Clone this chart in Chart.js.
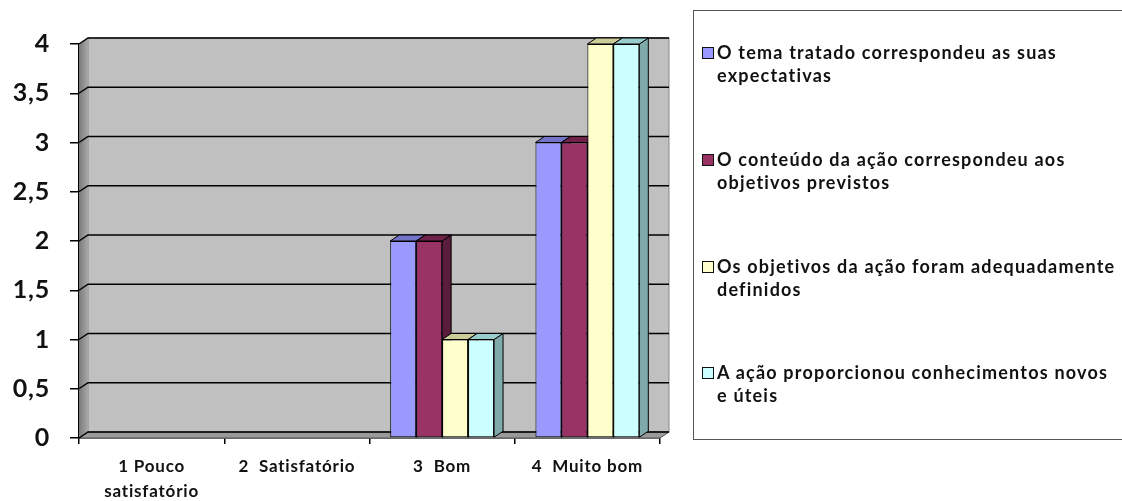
<!DOCTYPE html>
<html><head><meta charset="utf-8">
<script src="https://cdn.jsdelivr.net/npm/chart.js@4.4.0/dist/chart.umd.min.js"></script>
<style>
html,body{margin:0;padding:0;background:#fff;width:1122px;height:501px;overflow:hidden;}
#wrap{position:relative;width:1122px;height:501px;}
#c{position:absolute;left:0;top:0;}
#legend{position:absolute;left:693px;top:10px;width:440px;height:430px;border:1px solid #555;box-sizing:border-box;
  font-family:Lato,"Open Sans",sans-serif;font-weight:bold;font-size:18px;color:#111;}
.item{position:absolute;left:8px;display:flex;align-items:flex-start;line-height:23px;letter-spacing:1.2px;}
.mk{width:10px;height:10px;border:1.5px solid #111;margin-top:6px;margin-right:3px;flex:none;}
</style></head>
<body><div id="wrap"><canvas id="c" width="1122" height="501"></canvas><div id="legend"></div></div>
<script>
const categories = [["1 Pouco","satisfatório"], "2  Satisfatório", "3  Bom", "4  Muito bom"];
const seriesNames = [
  "O tema tratado correspondeu as suas expectativas",
  "O conteúdo da ação correspondeu aos objetivos previstos",
  "Os objetivos da ação foram adequadamente definidos",
  "A ação proporcionou conhecimentos novos e úteis"
];
const temaTratado   = [0, 0, 2, 3];
const conteudoAcao  = [0, 0, 2, 3];
const objetivosAcao = [0, 0, 1, 4];
const conhecimentos = [0, 0, 1, 4];
const yTicks = [0, 0.5, 1, 1.5, 2, 2.5, 3, 3.5, 4];

const colors = ["#9999FF", "#993366", "#FFFFCC", "#CCFFFF"];
const topCols = ["#7373C8", "#6E2249", "#CCCC99", "#99CCCC"];
const sideCols = ["#5C5CA6", "#5A1C3C", "#A6A67A", "#80AAAA"];
const values = [temaTratado, conteudoAcao, objetivosAcao, conhecimentos];

const DX = 9, DY = -6;
const spacing = {
  id: 'spacing',
  beforeInit(chart) { chart.ctx.letterSpacing = '0.8px'; },
  beforeDraw(chart) { chart.ctx.letterSpacing = '0.8px'; }
};
const threeD = {
  id: 'threeD',
  beforeDatasetsDraw(chart) {
    const {ctx, chartArea: a, scales: {y}} = chart;
    ctx.save();
    ctx.fillStyle = '#C0C0C0';
    ctx.fillRect(a.left + DX, a.top + DY, a.right - a.left, a.bottom - a.top);
    ctx.strokeStyle = '#888'; ctx.lineWidth = 1;
    ctx.strokeRect(a.left + DX, a.top + DY, a.right - a.left, a.bottom - a.top);
    const g = ctx.createLinearGradient(a.left, 0, a.left + DX, 0);
    g.addColorStop(0, '#7a7a7a'); g.addColorStop(1, '#a8a8a8');
    ctx.fillStyle = g;
    ctx.beginPath();
    ctx.moveTo(a.left, a.top); ctx.lineTo(a.left + DX, a.top + DY);
    ctx.lineTo(a.left + DX, a.bottom + DY); ctx.lineTo(a.left, a.bottom); ctx.closePath(); ctx.fill();
    ctx.fillStyle = '#9a9a9a';
    ctx.beginPath();
    ctx.moveTo(a.left, a.bottom); ctx.lineTo(a.left + DX, a.bottom + DY);
    ctx.lineTo(a.right + DX, a.bottom + DY); ctx.lineTo(a.right, a.bottom); ctx.closePath(); ctx.fill();
    ctx.strokeStyle = '#555'; ctx.lineWidth = 1; ctx.stroke();
    ctx.strokeStyle = '#000'; ctx.lineWidth = 1.5;
    yTicks.forEach(v => {
      const py = y.getPixelForValue(v);
      ctx.beginPath();
      ctx.moveTo(a.left, py); ctx.lineTo(a.left + DX, py + DY); ctx.lineTo(a.right + DX, py + DY);
      ctx.stroke();
    });
    const bars = [];
    chart.data.datasets.forEach((ds, di) => {
      chart.getDatasetMeta(di).data.forEach(el => {
        const p = el.getProps(['x', 'y', 'base', 'width'], true);
        if (Math.abs(p.base - p.y) < 0.5) return;
        bars.push({di, l: p.x - p.width / 2, r: p.x + p.width / 2, t: p.y, b: p.base});
      });
    });
    ctx.lineWidth = 1; ctx.strokeStyle = '#000';
    bars.forEach(bb => {
      ctx.fillStyle = sideCols[bb.di];
      ctx.beginPath();
      ctx.moveTo(bb.r, bb.t); ctx.lineTo(bb.r + DX, bb.t + DY); ctx.lineTo(bb.r + DX, bb.b + DY); ctx.lineTo(bb.r, bb.b);
      ctx.closePath(); ctx.fill(); ctx.stroke();
    });
    bars.forEach(bb => {
      ctx.fillStyle = topCols[bb.di];
      ctx.beginPath();
      ctx.moveTo(bb.l, bb.t); ctx.lineTo(bb.r, bb.t); ctx.lineTo(bb.r + DX, bb.t + DY); ctx.lineTo(bb.l + DX, bb.t + DY);
      ctx.closePath(); ctx.fill(); ctx.stroke();
    });
    ctx.restore();
  }
};

new Chart(document.getElementById('c'), {
  type: 'bar',
  data: {
    labels: categories,
    datasets: values.map((v, i) => ({
      label: seriesNames[i], data: v, backgroundColor: colors[i],
      borderColor: '#000', borderWidth: 1, borderSkipped: false
    }))
  },
  options: {
    responsive: false, animation: false,
    layout: {padding: {left: 0, right: 462, top: 44, bottom: 0}},
    plugins: {legend: {display: false}, tooltip: {enabled: false}},
    datasets: {bar: {categoryPercentage: 0.715, barPercentage: 1}},
    scales: {
      x: {
        afterFit(s) { s.height = 63; },
        grid: {display: true, offset: true, drawOnChartArea: false, tickLength: 6, color: '#000', lineWidth: 1.5},
        border: {display: true, color: '#000', width: 1.5},
        ticks: {color: '#111', padding: 10, font: {family: 'Lato', weight: 'bold', size: 17, lineHeight: 1.47}, maxRotation: 0}
      },
      y: {
        min: 0, max: 4,
        afterFit(s) { s.width = 79; },
        afterBuildTicks(s) { s.ticks = yTicks.map(v => ({value: v})); },
        grid: {display: true, drawOnChartArea: false, tickLength: 9, color: '#000', lineWidth: 1.5},
        border: {display: true, color: '#000', width: 1.5},
        ticks: {color: '#111', padding: 20, font: {family: 'Lato', weight: 'bold', size: 25},
          callback: v => String(v).replace('.', ',')}
      }
    }
  },
  plugins: [spacing, threeD]
});

const leg = document.getElementById('legend');
const tops = [30, 137, 244, 350];
const widths = [380, 390, 425, 418];
seriesNames.forEach((n, i) => {
  const d = document.createElement('div');
  d.className = 'item'; d.style.top = tops[i] + 'px';
  d.style.width = widths[i] + 'px';
  const m = document.createElement('span'); m.className = 'mk'; m.style.background = colors[i];
  const t = document.createElement('span'); t.textContent = n;
  d.appendChild(m); d.appendChild(t); leg.appendChild(d);
});
</script></body></html>
